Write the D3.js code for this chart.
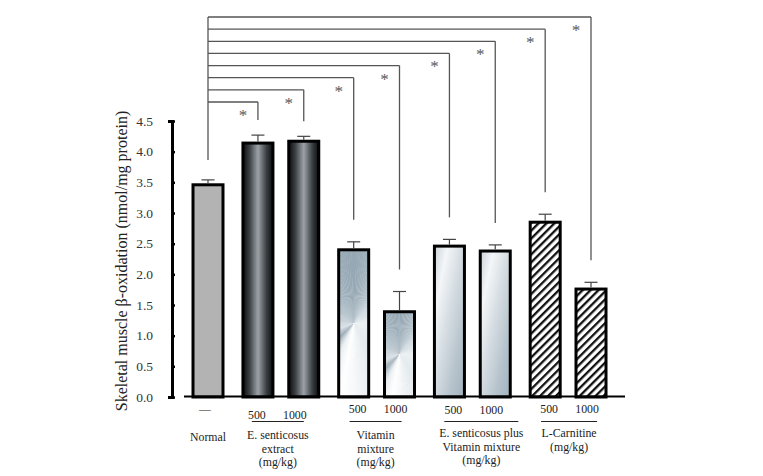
<!DOCTYPE html>
<html>
<head>
<meta charset="utf-8">
<script src="https://cdn.jsdelivr.net/npm/d3@7"></script>
<style>
  body { margin: 0; background: #fff; }
  svg { display: block; font-family: "Liberation Serif", "Times New Roman", serif; }
</style>
</head>
<body>
<script>
// bar data, left to right
var doseLabels = ["\u2014", "500", "1000", "500", "1000", "500", "1000", "500", "1000"];
var barGroup   = [0, 1, 1, 2, 2, 3, 3, 4, 4];
var values     = [3.46, 4.14, 4.17, 2.40, 1.39, 2.46, 2.38, 2.85, 1.76];
var errors     = [0.08, 0.13, 0.08, 0.13, 0.33, 0.11, 0.10, 0.13, 0.11];
// groups
var groupNames = [
  ["Normal"],
  ["E. senticosus", "extract", "(mg/kg)"],
  ["Vitamin", "mixture", "(mg/kg)"],
  ["E. senticosus plus", "Vitamin mixture", "(mg/kg)"],
  ["L-Carnitine", "(mg/kg)"]
];
var yTicks = [0, 0.5, 1, 1.5, 2, 2.5, 3, 3.5, 4, 4.5];
var yTitle = "Skeletal muscle \u03b2-oxidation (nmol/mg protein)";
// every treated bar is compared with Normal (bar 0)
var sigBars = [1, 2, 3, 4, 5, 6, 7, 8];

var W = 763, H = 476;
var groupGap = 0.09;

var svg = d3.select("body").append("svg").attr("width", W).attr("height", H);
var defs = svg.append("defs");

var slot = values.map(function(v, i) { return i + groupGap * barGroup[i]; });
var x = d3.scaleLinear().domain([0, d3.max(slot)]).range([208, 591]);
var y = d3.scaleLinear().domain([0, 4.5]).range([397, 121]);
var bx = function(i) { return x(slot[i]); };

// ---- fills ----
var gES = defs.append("linearGradient").attr("id", "gES").attr("x1", 0).attr("x2", 1).attr("y1", 0).attr("y2", 0);
[[0, "#0c0c0c"], [0.22, "#3b4044"], [0.5, "#9ca2a7"], [0.78, "#3b4044"], [1, "#0c0c0c"]].forEach(function(s) {
  gES.append("stop").attr("offset", s[0]).attr("stop-color", s[1]);
});
var gESV = defs.append("linearGradient").attr("id", "gESV").attr("x1", 0).attr("x2", 1).attr("y1", 0).attr("y2", 1);
[[0, "#c9d2d9"], [0.22, "#f4f6f8"], [0.45, "#d8dfe4"], [0.75, "#b6c3cc"], [1, "#a2b2be"]].forEach(function(s) {
  gESV.append("stop").attr("offset", s[0]).attr("stop-color", s[1]);
});
var hatch = defs.append("pattern").attr("id", "hatch").attr("patternUnits", "userSpaceOnUse")
  .attr("width", 5.6).attr("height", 5.6).attr("patternTransform", "rotate(45)");
hatch.append("rect").attr("width", 5.6).attr("height", 5.6).attr("fill", "#fff");
hatch.append("rect").attr("width", 2.3).attr("height", 5.6).attr("fill", "#111");

// conic "metal" colours for the vitamin bars (angle clockwise from up)
var conicStops = [[0, "#95a7b3"], [12, "#a3b3be"], [40, "#c9d4db"], [90, "#e6ecef"], [150, "#dfe6ea"],
  [172, "#eef2f4"], [190, "#ffffff"], [206, "#e6ecef"], [225, "#8d9fab"], [250, "#d2dbe1"],
  [300, "#b2c0c9"], [345, "#9fb0bb"], [360, "#95a7b3"]];
var conicColor = d3.scaleLinear().domain(conicStops.map(function(s) { return s[0]; }))
  .range(conicStops.map(function(s) { return s[1]; }));

var bw = 30;
var bars = svg.append("g").attr("class", "bars");
values.forEach(function(v, i) {
  var g = barGroup[i];
  var x0 = bx(i) - bw / 2, y0 = y(v), h = y(0) - y(v);
  if (g === 2) {
    var cid = "clip" + i;
    defs.append("clipPath").attr("id", cid).append("rect")
      .attr("x", x0).attr("y", y0).attr("width", bw).attr("height", h);
    var cg = bars.append("g").attr("clip-path", "url(#" + cid + ")")
      .append("g").attr("transform", "translate(" + bx(i) + "," + (y0 + h * 0.5) + ")");
    var arc = d3.arc().innerRadius(0).outerRadius(200);
    d3.range(0, 360, 2).forEach(function(a) {
      cg.append("path")
        .attr("d", arc({ startAngle: a * Math.PI / 180, endAngle: (a + 2.4) * Math.PI / 180 }))
        .attr("fill", conicColor(a + 1));
    });
  }
  var fill = g === 0 ? "#b3b3b3" : g === 1 ? "url(#gES)" : g === 2 ? "none" : g === 3 ? "url(#gESV)" : "url(#hatch)";
  bars.append("rect")
    .attr("x", x0).attr("y", y0).attr("width", bw).attr("height", h)
    .attr("fill", fill).attr("stroke", "#000").attr("stroke-width", 3);
});

// error bars (upper only)
var err = svg.append("g").attr("stroke", "#444").attr("stroke-width", 1.2);
values.forEach(function(v, i) {
  err.append("line").attr("x1", bx(i)).attr("x2", bx(i)).attr("y1", y(v) - 1.5).attr("y2", y(v + errors[i]));
  err.append("line").attr("x1", bx(i) - 6.5).attr("x2", bx(i) + 6.5).attr("y1", y(v + errors[i])).attr("y2", y(v + errors[i]));
});

// x baseline
svg.append("line").attr("x1", 184).attr("x2", 625).attr("y1", y(0) - 0.5).attr("y2", y(0) - 0.5)
  .attr("stroke", "#000").attr("stroke-width", 2.2);

// y axis
var yAxis = d3.axisLeft(y).tickValues(yTicks).tickFormat(d3.format(".1f"))
  .tickSizeInner(-3).tickSizeOuter(4).tickPadding(19);
var ya = svg.append("g").attr("transform", "translate(172,0)").call(yAxis);
ya.select(".domain").attr("stroke", "#000").attr("stroke-width", 3);
ya.selectAll(".tick line").attr("stroke", "#000").attr("stroke-width", 2.5);
ya.selectAll(".tick text").attr("font-family", "Liberation Serif").attr("font-size", 13.5).attr("fill", "#333");

svg.append("text")
  .attr("transform", "translate(127,261) rotate(-90)")
  .attr("text-anchor", "middle").attr("font-size", 16).attr("fill", "#222")
  .text(yTitle);

// significance brackets
var level = d3.scaleLinear().domain([0, sigBars.length - 1]).range([102, 17]);
var br = svg.append("g").attr("stroke", "#555").attr("stroke-width", 1.3).attr("fill", "none");
br.append("line").attr("x1", bx(0)).attr("x2", bx(0)).attr("y1", level(sigBars.length - 1)).attr("y2", 160);
sigBars.forEach(function(b, k) {
  var ly = level(k);
  br.append("line").attr("x1", bx(0)).attr("x2", bx(b)).attr("y1", ly).attr("y2", ly);
  br.append("line").attr("x1", bx(b)).attr("x2", bx(b)).attr("y1", ly).attr("y2", y(values[b] + errors[b]) - (k < 2 ? 15 : 22));
  svg.append("text").attr("x", bx(b) - 15).attr("y", ly + 19)
    .attr("text-anchor", "middle").attr("font-size", 17).attr("fill", "#666")
    .style("text-rendering", "geometricPrecision").text("*");
});

// x labels
var groupX = groupNames.map(function(n, g) {
  return d3.mean(values.map(function(v, i) { return i; }).filter(function(i) { return barGroup[i] === g; }), bx);
});
var nameDx = [0, -3, -1, 9, 1];
var lineHalf = [0, 26, 26, 37, 28];
var doseY = [413, 419, 413, 414, 413];
var nameY = [441, 439, 439, 437, 437];
var lab = svg.append("g").attr("fill", "#222").attr("font-size", 11.8).attr("text-anchor", "middle");
values.forEach(function(v, i) {
  var g = barGroup[i];
  var lx = g === 0 ? bx(i) - 3 : groupX[g] + (bx(i) < groupX[g] ? -19 : 19) + (g === 1 ? -5 : 0);
  lab.append("text").attr("x", lx).attr("y", doseY[g]).text(doseLabels[i]);
});
groupNames.forEach(function(lines, g) {
  var cx = groupX[g] + nameDx[g];
  if (lineHalf[g] > 0) {
    svg.append("line").attr("x1", cx - lineHalf[g]).attr("x2", cx + lineHalf[g])
      .attr("y1", 421.5).attr("y2", 421.5).attr("stroke", "#222").attr("stroke-width", 1.2);
  }
  lines.forEach(function(t, j) {
    lab.append("text").attr("x", cx).attr("y", nameY[g] + j * 13.5).text(t);
  });
});
</script>
</body>
</html>
